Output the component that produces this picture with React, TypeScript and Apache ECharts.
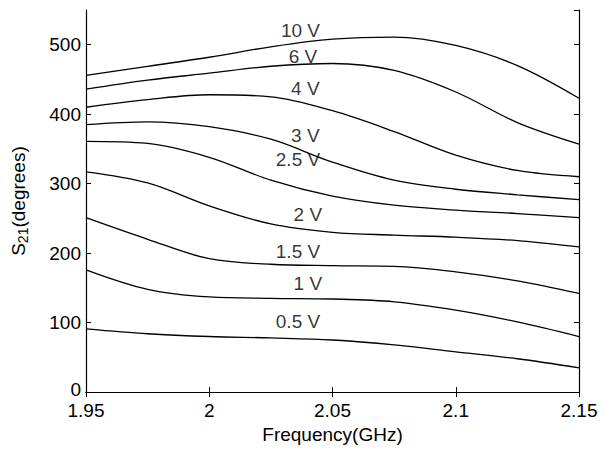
import React, { useEffect, useRef } from "react";
import * as echarts from "echarts";

const freq = [1.95, 1.975, 2.0, 2.025, 2.05, 2.075, 2.1, 2.125, 2.15];
const v10 = [456, 469, 482, 497, 508, 511, 499, 470, 423];
const v6 = [436, 449, 459, 469, 473, 463, 432, 388, 357];
const v4 = [410, 421, 428, 425, 405, 375, 341, 319, 310];
const v3 = [385, 389, 382, 364, 331, 305, 292, 284, 277];
const v25 = [361, 358, 338, 305, 282, 269, 262, 257, 251];
const v2 = [317, 301, 268, 242, 230, 226, 223, 218, 209];
const v15 = [251, 220, 192, 184, 182, 181, 173, 160, 142];
const v1 = [176, 148, 137, 135, 134, 130, 118, 101, 80];
const v05 = [91, 84, 80, 78, 75, 68, 58, 48, 35];
const seriesData = [v10, v6, v4, v3, v25, v2, v15, v1, v05];

const labelText = ["10 V", "6 V", "4 V", "3 V", "2.5 V", "2 V", "1.5 V", "1 V", "0.5 V"];
const labelX = [2.037, 2.038, 2.039, 2.039, 2.036, 2.04, 2.036, 2.04, 2.036];
const labelY = [520, 483, 437, 369, 335, 256, 203, 156, 101];

export default function App() {
  const ref = useRef<HTMLDivElement>(null);
  useEffect(() => {
    if (!ref.current) return;
    const chart = echarts.init(ref.current, undefined, { renderer: "svg" });
    const font = "Liberation Sans, Arial, sans-serif";
    const fs = 19;
    const axisLine = { show: true, lineStyle: { color: "#000", width: 1.2 } };
    const tick = { show: true, inside: true, length: 5, lineStyle: { color: "#000" } };
    const lines = seriesData.map((d) => ({
      type: "line",
      data: freq.map((f, i) => [f, d[i]]),
      smooth: 0.35,
      symbol: "none",
      lineStyle: { color: "#000", width: 1.3 },
      xAxisIndex: 0,
      yAxisIndex: 0,
    }));
    chart.setOption({
      animation: false,
      backgroundColor: "#fff",
      textStyle: { fontFamily: font },
      grid: { left: 86, top: 10, right: 26, bottom: 51 },
      xAxis: [
        {
          type: "value",
          min: 1.95,
          max: 2.15,
          interval: 0.05,
          position: "bottom",
          axisLine,
          axisTick: tick,
          splitLine: { show: false },
          axisLabel: {
            color: "#000",
            fontSize: fs,
            fontFamily: font,
            margin: 9,
            formatter: (v: number) => String(+v.toFixed(2)),
          },
          name: "Frequency(GHz)",
          nameLocation: "middle",
          nameGap: 31,
          nameTextStyle: { color: "#000", fontSize: fs, fontFamily: font },
        },
        {
          type: "value",
          min: 1.95,
          max: 2.15,
          interval: 0.05,
          position: "top",
          axisLine,
          axisTick: tick,
          splitLine: { show: false },
          axisLabel: { show: false },
        },
      ],
      yAxis: [
        {
          type: "value",
          min: 0,
          max: 550,
          interval: 100,
          position: "left",
          axisLine,
          axisTick: tick,
          splitLine: { show: false },
          axisLabel: {
            color: "#000",
            fontSize: fs,
            fontFamily: font,
            margin: 5,
            showMaxLabel: false,
            formatter: (v: number) => (v === 0 ? "{z|0}" : String(v)),
            rich: {
              z: { fontSize: fs, fontFamily: font, color: "#000", padding: [0, 0, 6, 0] },
            },
          },
          name: "S{sub|21}(degrees)",
          nameLocation: "middle",
          nameGap: 56,
          nameRotate: 90,
          nameTextStyle: {
            color: "#000",
            fontSize: fs,
            fontFamily: font,
            rich: {
              sub: { fontSize: 14, verticalAlign: "bottom", padding: [9, 0, 0, 0], color: "#000", fontFamily: font },
            },
          },
        },
        {
          type: "value",
          min: 0,
          max: 550,
          interval: 100,
          position: "right",
          axisLine,
          axisTick: tick,
          splitLine: { show: false },
          axisLabel: { show: false },
        },
      ],
      series: [
        ...lines,
        {
          type: "scatter",
          symbolSize: 1,
          itemStyle: { color: "rgba(0,0,0,0)" },
          data: labelText.map((t, i) => ({ name: t, value: [labelX[i], labelY[i]] })),
          label: {
            show: true,
            position: "inside",
            formatter: (p: any) => p.name,
            color: "#000",
            fontSize: fs,
            fontFamily: font,
          },
          z: 5,
        },
      ],
    });
    return () => chart.dispose();
  }, []);
  return <div ref={ref} style={{ width: 605, height: 449, position: "absolute", left: 0, top: 0 }} />;
}
